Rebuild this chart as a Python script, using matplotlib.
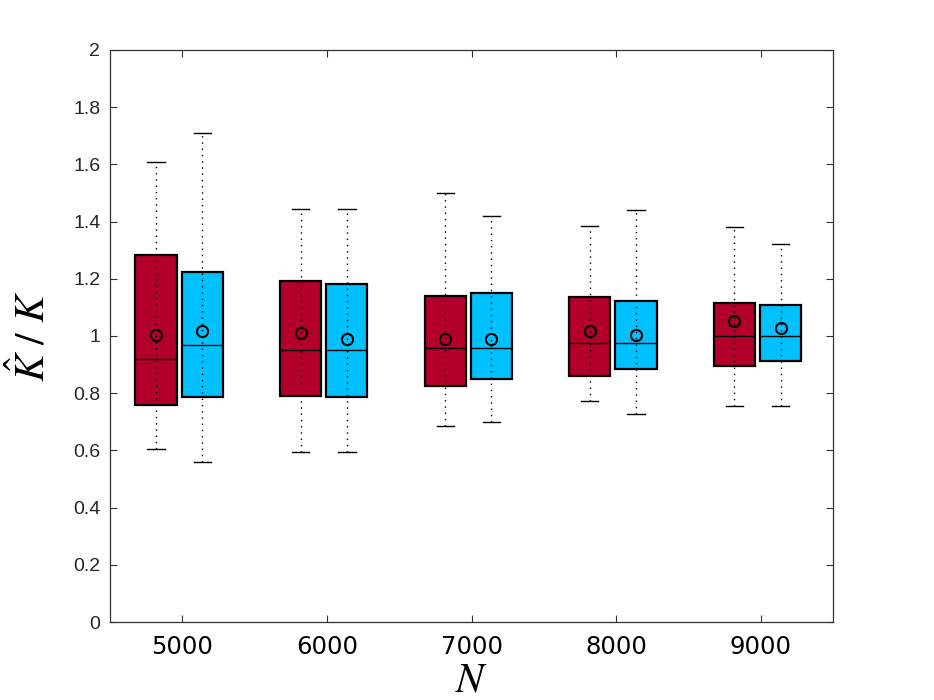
import matplotlib
matplotlib.use("Agg")
import matplotlib.pyplot as plt

plt.rcParams["mathtext.fontset"] = "stix"

# group sizes on the x axis
N = [5000, 6000, 7000, 8000, 9000]

# red series
red_whislo = [0.605, 0.596, 0.687, 0.773, 0.756]
red_q1 = [0.758, 0.791, 0.824, 0.861, 0.896]
red_med = [0.921, 0.951, 0.959, 0.974, 1.000]
red_q3 = [1.283, 1.194, 1.140, 1.135, 1.114]
red_whishi = [1.607, 1.443, 1.500, 1.384, 1.380]
red_mean = [1.005, 1.011, 0.988, 1.017, 1.052]

# blue series
blue_whislo = [0.558, 0.596, 0.698, 0.726, 0.756]
blue_q1 = [0.787, 0.787, 0.851, 0.884, 0.912]
blue_med = [0.968, 0.951, 0.959, 0.974, 1.000]
blue_q3 = [1.225, 1.182, 1.149, 1.123, 1.108]
blue_whishi = [1.711, 1.443, 1.419, 1.441, 1.322]
blue_mean = [1.017, 0.988, 0.988, 1.005, 1.029]

red_col = "#b3002b"
blue_col = "#00c1ff"


def make_stats(lo, q1, med, q3, hi, mean):
    return [dict(whislo=a, q1=b, med=c, q3=d, whishi=e, mean=f, fliers=[])
            for a, b, c, d, e, f in zip(lo, q1, med, q3, hi, mean)]


fig = plt.figure(figsize=(9.34, 7.0), dpi=100)
ax = fig.add_axes([0.1178, 0.1114, 0.7741, 0.8172])

width = 285
groups = [
    (make_stats(red_whislo, red_q1, red_med, red_q3, red_whishi, red_mean), -182, red_col),
    (make_stats(blue_whislo, blue_q1, blue_med, blue_q3, blue_whishi, blue_mean), 138, blue_col),
]
for stats, off, col in groups:
    pos = [n + off for n in N]
    ax.bxp(stats, positions=pos, widths=width, capwidths=width * 0.42,
           patch_artist=True, showmeans=True, manage_ticks=False,
           boxprops=dict(facecolor=col, edgecolor="black", linewidth=1.6),
           medianprops=dict(color="black", linewidth=1.0),
           whiskerprops=dict(visible=False),
           capprops=dict(color="black", linewidth=1.0),
           meanprops=dict(marker="o", markerfacecolor="none", markeredgecolor="black",
                          markersize=8, markeredgewidth=1.5))
    # dotted whisker line runs through the whole box, like in matlab
    ax.vlines(pos, [s["whislo"] for s in stats], [s["whishi"] for s in stats],
              colors="black", linestyles=(0, (1, 3.5)), linewidth=1.0, zorder=4)

ax.set_xlim(4500, 9500)
ax.set_ylim(0, 2)
ax.set_xticks(N)
ax.set_yticks([0, 0.2, 0.4, 0.6, 0.8, 1, 1.2, 1.4, 1.6, 1.8, 2])
ax.set_yticklabels(["0", "0.2", "0.4", "0.6", "0.8", "1", "1.2", "1.4", "1.6", "1.8", "2"],
                   fontfamily="Liberation Sans", fontsize=14, color="#262626")
ax.set_xticklabels([str(n) for n in N], fontfamily="DejaVu Sans", fontsize=17.5)
ax.tick_params(direction="in", length=5, width=0.8, top=True, right=True, colors="#333333")
ax.tick_params(axis="x", labelcolor="black", pad=9)
ax.tick_params(axis="y", labelcolor="#262626", pad=7)
for s in ax.spines.values():
    s.set_color("#333333")
    s.set_linewidth(0.9)

ax.set_xlabel(r"$N$", fontsize=30, labelpad=0)
ax.set_ylabel(r"$\hat{K}\ /\ K$", fontsize=30, labelpad=14)

fig.savefig("out.png", dpi=100)
